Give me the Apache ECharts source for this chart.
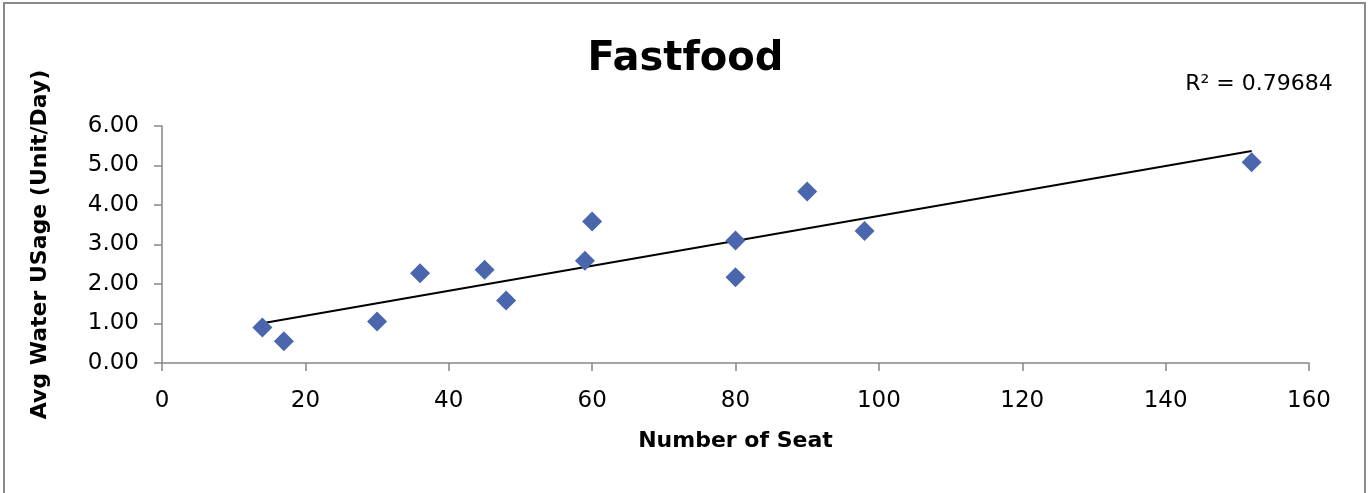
<!DOCTYPE html>
<html>
<head>
<meta charset="utf-8">
<title>Fastfood</title>
<script src="https://cdn.jsdelivr.net/npm/echarts@6/dist/echarts.min.js"></script>
<style>
  html, body { margin: 0; padding: 0; background: #fff; }
  #chart { width: 1371px; height: 493px; }
</style>
</head>
<body>
<div id="chart"></div>
<script>
// Seats per restaurant and average daily water usage
const seats = [14, 17, 30, 36, 45, 48, 59, 60, 80, 80, 90, 98, 152];
const waterUsage = [0.90, 0.55, 1.05, 2.27, 2.36, 1.58, 2.59, 3.58, 3.10, 2.17, 4.34, 3.34, 5.08];
const xTicks = [0, 20, 40, 60, 80, 100, 120, 140, 160];
const yTicks = [0, 1, 2, 3, 4, 5, 6];
const rSquaredText = 'R² = 0.79684';

// Least-squares linear trendline through the points
function linearFit(xs, ys) {
  const n = xs.length;
  const mx = xs.reduce((a, b) => a + b, 0) / n;
  const my = ys.reduce((a, b) => a + b, 0) / n;
  let sxy = 0, sxx = 0;
  for (let i = 0; i < n; i++) {
    sxy += (xs[i] - mx) * (ys[i] - my);
    sxx += (xs[i] - mx) * (xs[i] - mx);
  }
  const slope = sxy / sxx;
  return { slope, intercept: my - slope * mx };
}
const fit = linearFit(seats, waterUsage);
const xMin = Math.min(...seats), xMax = Math.max(...seats);
const trend = [xMin, xMax].map(x => [x, fit.intercept + fit.slope * x]);

const FONT = '"DejaVu Sans", sans-serif';
const AXIS_GREY = '#868686';

const chart = echarts.init(document.getElementById('chart'), null, { renderer: 'canvas' });
chart.setOption({
  backgroundColor: '#ffffff',
  animation: false,
  title: {
    text: 'Fastfood',
    left: 'center',
    top: 35,
    textStyle: { fontFamily: FONT, fontSize: 40, fontWeight: 'bold', color: '#000' }
  },
  graphic: [
    {
      type: 'rect',
      shape: { x: 4, y: 3, width: 1361, height: 520 },
      style: { fill: 'none', stroke: '#8a8a8a', lineWidth: 2 },
      silent: true
    },
    {
      type: 'text',
      x: 1259, y: 84,
      style: {
        text: rSquaredText,
        fontFamily: FONT, fontSize: 22, fill: '#000',
        textAlign: 'center', textVerticalAlign: 'middle'
      }
    }
  ],
  grid: { left: 162, right: 62, top: 126, bottom: 130, containLabel: false },
  xAxis: {
    type: 'value',
    min: xTicks[0],
    max: xTicks[xTicks.length - 1],
    interval: xTicks[1] - xTicks[0],
    name: 'Number of Seat',
    nameLocation: 'middle',
    nameGap: 67,
    nameTextStyle: { fontFamily: FONT, fontSize: 22, fontWeight: 'bold', color: '#000' },
    axisLine: { show: true, onZero: false, lineStyle: { color: AXIS_GREY, width: 1.5 } },
    axisTick: { show: true, inside: false, length: 8, lineStyle: { color: AXIS_GREY, width: 1.5 } },
    axisLabel: { fontFamily: FONT, fontSize: 23, color: '#000', margin: 27 },
    splitLine: { show: false }
  },
  yAxis: {
    type: 'value',
    min: yTicks[0],
    max: yTicks[yTicks.length - 1],
    interval: yTicks[1] - yTicks[0],
    name: 'Avg Water USage (Unit/Day)',
    nameLocation: 'middle',
    nameGap: 111,
    nameRotate: 90,
    nameTextStyle: { fontFamily: FONT, fontSize: 22, fontWeight: 'bold', color: '#000' },
    axisLine: { show: true, onZero: false, lineStyle: { color: AXIS_GREY, width: 1.5 } },
    axisTick: { show: true, inside: false, length: 8, lineStyle: { color: AXIS_GREY, width: 1.5 } },
    axisLabel: {
      fontFamily: FONT, fontSize: 23, color: '#000', margin: 23,
      formatter: v => v.toFixed(2)
    },
    splitLine: { show: false }
  },
  series: [
    {
      name: 'Trendline',
      type: 'line',
      data: trend,
      symbol: 'none',
      lineStyle: { color: '#000', width: 2 },
      z: 2
    },
    {
      name: 'Fastfood',
      type: 'scatter',
      data: seats.map((s, i) => [s, waterUsage[i]]),
      symbol: 'diamond',
      symbolSize: 20,
      itemStyle: { color: '#4a67ad', opacity: 1 },
      z: 3
    }
  ]
});
</script>
</body>
</html>
